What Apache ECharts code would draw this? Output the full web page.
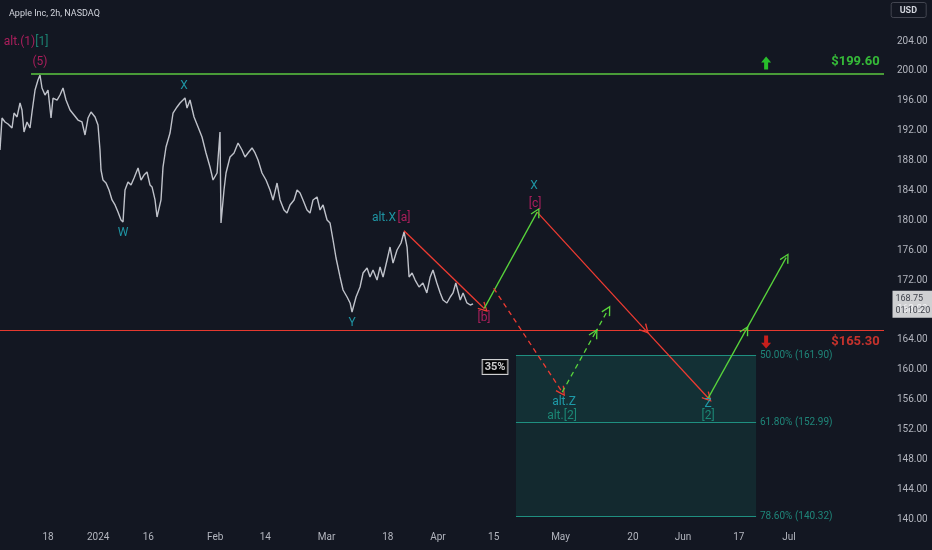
<!DOCTYPE html>
<html><head><meta charset="utf-8">
<script src="https://cdn.jsdelivr.net/npm/echarts@6/dist/echarts.min.js"></script>
<style>html,body{margin:0;padding:0;background:#131722}#c{width:932px;height:550px}</style>
</head><body><div id="c"></div>
<script>
// ---- data ----
const priceDay = [2.38,2.74,3.28,3.82,4.54,4.90,5.44,5.97,6.33,6.69,7.23,7.77,8.13,8.67,9.20,9.56,9.92,10.46,11.0,11.54,11.90,12.62,13.15,13.69,14.23,14.95,15.67,16.38,17.10,17.64,18.18,18.72,19.44,19.97,20.33,20.51,20.87,21.41,21.95,22.49,23.03,23.56,24.10,24.46,24.82,25.36,25.90,26.44,27.16,27.69,28.23,28.77,29.31,29.67,30.21,30.57,31.28,31.64,32.18,32.90,33.44,34.16,34.69,35.23,35.59,35.95,36.49,37.21,37.93,38.64,39.36,40.08,40.62,41.34,41.87,42.05,42.59,42.95,43.67,44.39,45.11,45.82,46.36,46.90,47.62,48.16,48.70,49.41,50.13,50.85,51.39,52.11,52.65,53.36,53.90,54.44,55.16,55.70,56.24,56.77,57.49,58.03,58.57,59.29,59.83,60.37,61.09,61.62,62.16,62.70,63.42,63.96,64.68,65.22,65.57,66.29,67.01,67.55,68.27,68.80,69.34,70.06,70.60,71.14,71.86,72.39,72.93,73.65,74.37,74.91,75.45,75.81,76.35,76.90,77.60,78.30,79.0,79.6,80.1,80.8,81.4,81.9,82.6,83.2,83.7,84.2,85.0,85.5,86.2,86.8,87.3];
const priceClose = [189.41,193.69,193.16,192.89,192.35,194.36,193.83,195.7,194.76,191.82,193.16,192.35,194.5,197.44,198.78,199.45,197.71,196.77,197.44,193.69,196.37,196.1,196.77,197.71,196.1,194.76,194.09,193.42,193.16,191.42,193.69,194.5,193.83,192.75,189.41,186.73,185.39,184.99,184.05,182.72,182.05,181.11,180.04,179.77,184.05,185.13,184.72,185.66,187.0,185.39,186.06,186.46,184.72,184.46,182.72,180.44,182.72,187.13,189.81,191.68,194.36,195.17,195.7,196.1,196.37,195.03,196.1,193.83,192.49,191.15,189.01,187.13,185.39,186.33,191.82,179.64,184.05,186.33,188.47,189.01,190.35,189.41,188.47,189.01,189.68,189.01,188.07,186.33,185.39,184.05,182.72,184.99,182.72,181.38,180.97,182.05,182.72,184.05,183.65,182.72,181.38,180.97,182.72,183.12,181.38,182.05,180.04,179.64,177.36,174.95,172.41,170.67,169.73,168.93,167.72,169.73,171.07,172.94,173.61,172.41,173.35,172.0,173.75,172.41,174.68,176.42,174.28,176.02,176.96,178.43,176.42,172.41,172.94,172.0,171.07,171.6,170.27,172.41,173.35,171.6,170.27,169.33,168.93,169.73,170.27,171.6,169.33,170.27,168.93,168.66,168.8];

const xTickDays = [11,20,29,41,50,61,72,81,91,103,116,125,135,144];
const xTickLabels = ['18','2024','16','Feb','14','Mar','18','Apr','15','May','20','Jun','17','Jul'];
const yTicks = [140,144,148,152,156,160,164,168,172,176,180,184,188,192,196,200,204];

const resistance = 199.60;
const support = 165.30;
const fibLevels = [161.90, 152.99, 140.32];
const fibNames = ['50.00%', '61.80%', '78.60%'];
const fibSpan = [95.0, 138.1];
const lastPrice = 168.75;
const countdown = '01:10:20';

// wave projection points [day, price]
const ptA = [74.9, 178.6], ptB = [89.3, 168.2], ptC = [98.8, 181.1];
const ptCross1 = [118.25, 165.3], ptZ = [129.5, 156.2], ptCross2 = [136.27, 165.3], ptEnd = [143.5, 175.0];
const ptDash = [91.0, 170.9], ptAltZ = [103.3, 157.0], ptAltCross = [109.2, 164.9], ptAltEnd = [111.5, 168.0];

const labelTexts  = ['(5)', 'X', 'W', 'Y', 'alt.X', '[a]', '[b]', 'X', '[c]', 'alt.Z', 'alt.[2]', 'Z', '[2]'];
const labelDays   = [9.56, 35.41, 24.46, 65.57, 71.3, 74.9, 89.26, 98.24, 98.42, 103.62, 103.26, 129.47, 129.47];
const labelPrices = [201.19, 197.97, 178.3, 166.25, 180.3, 180.3, 166.92, 184.59, 182.18, 155.67, 153.8, 155.4, 153.8];
const labelKinds  = ['m', 'c', 'c', 'c', 'c', 'm', 'm', 'c', 'm', 'c', 't', 'c', 't'];

// ---- styles ----
const MAG = '#d0216a', CYAN = '#22b4c4', TEAL = '#1e9e86';
const RED = '#ee3b32', GREEN = '#58d43c';
const X_MIN = 2.38, X_MAX = 161.06, Y_MIN = 139.34, Y_MAX = 209.49;
const chevron = 'path://M5,0 L10,9 L8.8,9.7 L5,2.6 L1.2,9.7 L0,9 Z';
const kindColor = {m: MAG, c: CYAN, t: TEAL};

const chart = echarts.init(document.getElementById('c'));

function seg(a, b) { return {coords: [a, b]}; }
function arrows(name, segs, color, dashed) {
  return {
    type: 'lines', name, coordinateSystem: 'cartesian2d', z: 5,
    symbol: ['none', chevron], symbolSize: [9, 10],
    lineStyle: {color, width: 1.3, type: dashed ? [5, 4] : 'solid', opacity: 1},
    data: segs
  };
}
function hline(name, price, from, to, color, width) {
  return {
    type: 'lines', name, coordinateSystem: 'cartesian2d', z: 3,
    symbol: ['none', 'none'],
    lineStyle: {color, width, opacity: 1},
    data: [seg([from, price], [to, price])]
  };
}

const textData = labelTexts.map((t, i) => ({
  value: [labelDays[i], labelPrices[i]],
  label: {formatter: t, color: kindColor[labelKinds[i]]}
}));
textData.push({
  value: [7.05, 203.87],
  label: {formatter: '{m|alt.(1)}{t|[1]}', rich: {m: {color: MAG, fontSize: 12, fontFamily: 'Roboto'}, t: {color: TEAL, fontSize: 12, fontFamily: 'Roboto'}}}
});
textData.push({
  value: [91.24, 160.36],
  label: {formatter: '35%', color: '#ffffff', backgroundColor: '#000000', borderColor: '#ffffff', borderWidth: 1, padding: [2, 2, 1, 2], fontWeight: 'bold', fontSize: 11}
});
textData.push({
  value: [160.3, 201.19],
  label: {formatter: '$' + resistance.toFixed(2), color: '#3fe23f', fontSize: 13, fontWeight: 'bold', align: 'right'}
});
textData.push({
  value: [160.3, 163.7],
  label: {formatter: '$' + support.toFixed(2), color: '#f23a30', fontSize: 13, fontWeight: 'bold', align: 'right'}
});
fibLevels.forEach((lv, i) => {
  textData.push({
    value: [fibSpan[1] + 0.7, lv],
    label: {formatter: fibNames[i] + ' (' + lv.toFixed(2) + ')', color: '#22a08e', fontSize: 10, align: 'left'}
  });
});

const option = {
  backgroundColor: '#131722',
  animation: false,
  title: [
    {text: 'Apple Inc, 2h, NASDAQ', left: 4, top: 4, textStyle: {color: '#d1d4dc', fontSize: 9, fontWeight: 'normal', fontFamily: 'Roboto'}},
    {text: 'USD', right: 6, top: 2, padding: [4, 9, 3, 9], borderColor: '#434651', borderWidth: 1, borderRadius: 2,
     textStyle: {color: '#d1d4dc', fontSize: 9, fontWeight: 'bold', fontFamily: 'Roboto'}}
  ],
  grid: {left: 0, right: 48, top: 0, bottom: 26},
  xAxis: {
    type: 'value', min: X_MIN, max: X_MAX,
    axisLine: {show: false}, axisTick: {show: false}, splitLine: {show: false},
    axisLabel: {
      customValues: xTickDays, color: '#b2b5be', fontSize: 10, margin: 8, fontFamily: 'Roboto',
      formatter: v => { const i = xTickDays.indexOf(v); return i >= 0 ? xTickLabels[i] : ''; }
    }
  },
  yAxis: {
    type: 'value', position: 'right', min: Y_MIN, max: Y_MAX,
    axisLine: {show: false}, axisTick: {show: false}, splitLine: {show: false},
    axisLabel: {customValues: yTicks, color: '#b2b5be', fontSize: 10, margin: 13, fontFamily: 'Roboto',
      formatter: v => v.toFixed(2)}
  },
  series: [
    {
      type: 'line', name: 'AAPL', z: 2, showSymbol: false, symbol: 'none',
      lineStyle: {color: '#bfc2ca', width: 1.4},
      data: priceDay.map((d, i) => [d, priceClose[i]]),
      markArea: {
        silent: true,
        data: [
          [{coord: [fibSpan[0], fibLevels[0]], itemStyle: {color: 'rgba(22,150,130,0.20)'}}, {coord: [fibSpan[1], fibLevels[1]]}],
          [{coord: [fibSpan[0], fibLevels[1]], itemStyle: {color: 'rgba(22,150,130,0.15)'}}, {coord: [fibSpan[1], fibLevels[2]]}]
        ]
      }
    },
    hline('fib50', fibLevels[0], fibSpan[0], fibSpan[1], '#1f8f80', 1),
    hline('fib618', fibLevels[1], fibSpan[0], fibSpan[1], '#1f8f80', 1),
    hline('fib786', fibLevels[2], fibSpan[0], fibSpan[1], '#1f8f80', 1),
    hline('resistance', resistance, 7.95, X_MAX, '#5cc941', 1.5),
    hline('support', support, X_MIN, X_MAX, '#e5392f', 1.2),
    arrows('redSolid', [seg(ptA, ptB), seg(ptC, ptCross1), seg(ptCross1, ptZ)], RED, false),
    arrows('greenSolid', [seg(ptB, ptC), seg(ptZ, ptCross2), seg(ptCross2, ptEnd)], GREEN, false),
    arrows('redDash', [seg(ptDash, ptAltZ)], RED, true),
    arrows('greenDash', [seg(ptAltZ, ptAltCross), seg(ptAltCross, ptAltEnd)], GREEN, true),
    {
      type: 'scatter', name: 'signals', z: 6, clip: false,
      symbol: 'path://M5,0 L10,5 L7,5 L7,11 L3,11 L3,5 L0,5 Z', symbolSize: [10, 13],
      data: [
        {value: [139.9, 201.06], itemStyle: {color: '#2ee82e'}},
        {value: [139.9, 163.7], symbolRotate: 180, itemStyle: {color: '#f5221b'}}
      ]
    },
    {
      type: 'scatter', name: 'texts', z: 7, clip: false, symbolSize: 1,
      itemStyle: {color: 'rgba(0,0,0,0)'},
      label: {show: true, position: 'inside', fontSize: 12, fontFamily: 'Roboto'},
      data: textData
    },
    {
      type: 'scatter', name: 'last', z: 8, clip: false, symbolSize: 1,
      itemStyle: {color: 'rgba(0,0,0,0)'},
      label: {show: true, position: 'right', distance: 8, formatter: lastPrice.toFixed(2) + '\n' + countdown,
        color: '#131722', backgroundColor: '#ffffff', padding: [2, 2, 1, 3], fontSize: 9, lineHeight: 12, fontFamily: 'Roboto'},
      data: [[X_MAX, lastPrice]]
    }
  ]
};
chart.setOption(option);
</script></body></html>
